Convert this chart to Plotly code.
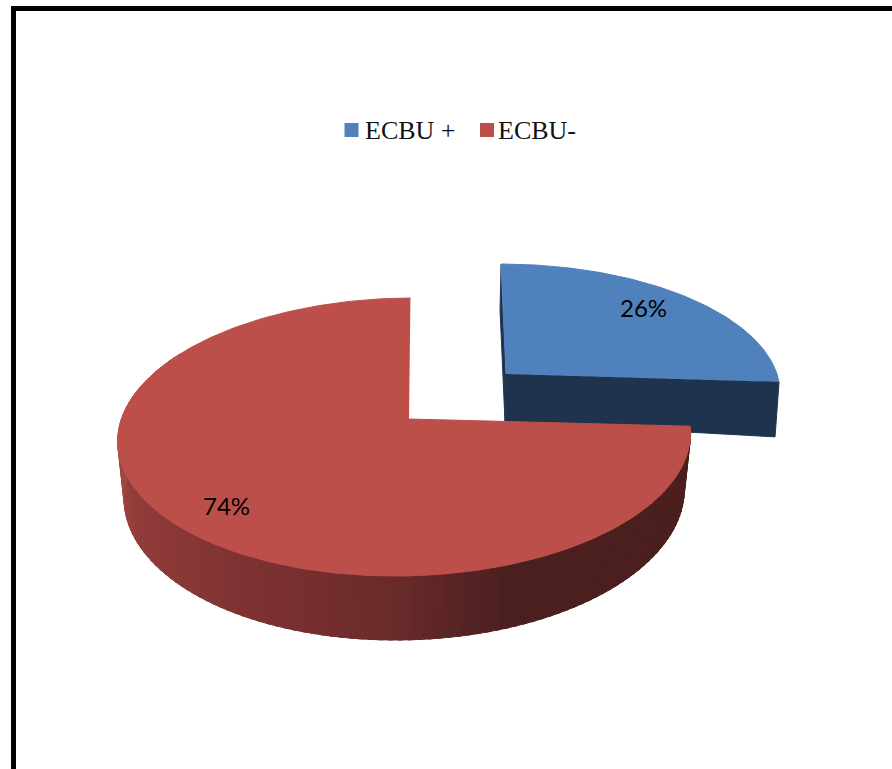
import numpy as np
import plotly.graph_objects as go

labels = ["ECBU +", "ECBU-"]
values = [26, 74]
top_colors = ["#4f81bd", "#bd4f4b"]
blue_wall_color = "#1f334e"

# wall shading of the red slice: angle (degrees clockwise from 12 o'clock) -> colour
shade_angles = [90, 160, 170, 180, 210, 240, 270, 300]
shade_r = [75, 75, 88, 105, 128, 145, 165, 170]
shade_g = [31, 31, 36, 42, 50, 60, 74, 76]
shade_b = [30, 30, 36, 42, 50, 58, 72, 74]

PERSP = 0.1295


def rim(theta, c, rx, ry, shear, tilt=0.0):
    """Perspective projection of the pie's top rim, theta clockwise from north."""
    s = 1 / (1 + PERSP * np.cos(theta))
    dx = rx * np.sin(theta) * s
    dy = -ry * np.cos(theta) * s
    return c[0] + dx + shear * dy, c[1] + dy + tilt * dx, s


def poly(x, y, color):
    return go.Scatter(
        x=list(x), y=list(y), mode="lines", fill="toself", fillcolor=color,
        line=dict(color=color, width=1), hoverinfo="skip", showlegend=False,
    )


angles = 2 * np.pi * np.cumsum([0] + values) / sum(values)
blue_t = np.linspace(angles[0], angles[1], 120)
red_t = np.linspace(angles[1], angles[2], 300)

fig = go.Figure()

# exploded blue slice
bx, by, _ = rim(blue_t, (506, 374), 271, 124.2, 0.045)
apex_b = (506, 374)
drop_near, drop_far = 48, 55
fig.add_trace(poly([bx[0], bx[0] - 1, apex_b[0] - 1, apex_b[0]],
                   [by[0], by[0] + 46, apex_b[1] + drop_near, apex_b[1]], blue_wall_color))
fig.add_trace(poly([apex_b[0], bx[-1], bx[-1] - 4, apex_b[0] - 1],
                   [apex_b[1], by[-1], by[-1] + drop_far, apex_b[1] + drop_near], blue_wall_color))
fig.add_trace(poly([apex_b[0], *bx], [apex_b[1], *by], top_colors[0]))

# red slice wall, drawn as shaded bands
c_red = (405, 419)
rx, ry, s = rim(red_t, c_red, 284, 136.7, -0.045, -0.005)
wx = rx - (rx - c_red[0]) * 0.022
wy = ry + 55.7 * s
deg = np.degrees(red_t)
step = 2
for i in range(0, len(red_t) - 1, step):
    j = min(i + step + 1, len(red_t) - 1)
    d = deg[i:j + 1].mean()
    if d > 300:
        break
    col = "rgb({:.0f},{:.0f},{:.0f})".format(
        np.interp(d, shade_angles, shade_r),
        np.interp(d, shade_angles, shade_g),
        np.interp(d, shade_angles, shade_b),
    )
    fig.add_trace(poly([*rx[i:j + 1], *wx[i:j + 1][::-1]], [*ry[i:j + 1], *wy[i:j + 1][::-1]], col))

# red top
fig.add_trace(poly([409, *rx], [419, *ry], top_colors[1]))

# legend swatches
fig.add_trace(go.Scatter(
    x=[351.5, 487], y=[130, 130], mode="markers", hoverinfo="skip", showlegend=False,
    marker=dict(symbol="square", size=14, color=top_colors, line=dict(width=0)),
))

annotations = []
for lab, xp in zip(labels, [362.5, 496]):
    annotations.append(dict(x=xp, y=130, text=lab, showarrow=False, xanchor="left", yanchor="middle",
                            font=dict(family="Liberation Serif", size=26, color="#111111")))
for v, (xp, yp) in zip(values, [(643, 307), (226, 505)]):
    annotations.append(dict(x=xp, y=yp, text=f"{v}%", showarrow=False,
                            font=dict(family="Lato", size=24, color="#000000")))

fig.update_layout(
    width=892, height=769, autosize=False,
    margin=dict(l=0, r=0, t=0, b=0, pad=0),
    paper_bgcolor="white", plot_bgcolor="white", showlegend=False,
    xaxis=dict(range=[0, 892], visible=False, fixedrange=True),
    yaxis=dict(range=[769, 0], visible=False, fixedrange=True),
    annotations=annotations,
    shapes=[dict(type="rect", xref="x", yref="y", x0=13.5, y0=8.5, x1=920, y1=820,
                 line=dict(color="black", width=5), layer="below")],
)
fig.write_html("out.html", config=dict(displayModeBar=False),
               post_script="document.body.style.margin='0';document.documentElement.style.overflow='hidden';")
